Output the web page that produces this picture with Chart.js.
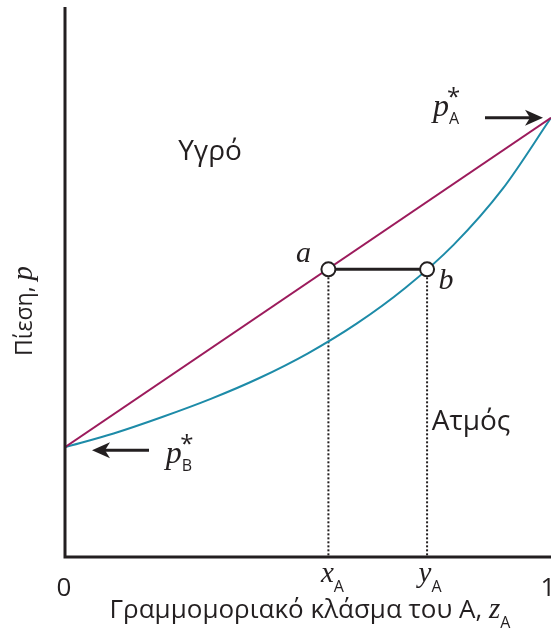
<!DOCTYPE html>
<html lang="el">
<head>
  <meta charset="UTF-8" />
  <title>Διάγραμμα πίεσης - σύστασης</title>
  <script src="https://cdn.jsdelivr.net/npm/chart.js"></script>
  <style>
    body {
      margin: 0;
      background: #ffffff;
    }
    #wrap {
      width: 551px;
      height: 633px;
    }
  </style>
</head>
<body>
  <div id="wrap"><canvas id="phase" width="551" height="633"></canvas></div>

  <script>
    // mole fraction of A and pressures (p_B* = 0.40, p_A* = 1.00)
    const compA = [0, 0.1, 0.2, 0.3, 0.4, 0.5, 0.6, 0.7, 0.8, 0.9, 1.0]
    const vaporP = [0.40, 0.425, 0.455, 0.488, 0.526, 0.571, 0.625, 0.690, 0.769, 0.870, 1.00]
    const liquidX = [0, 1]
    const liquidP = [0.40, 1.00]
    // tie line a-b
    const tieX = [0.542, 0.745]
    const tieP = [0.724, 0.724]
    const pAxisMin = 0.2
    const pAxisMax = 1.2

    const INK = '#231f20'
    const SANS = '"Open Sans", "Noto Sans", sans-serif'
    const SERIF = '"Liberation Serif", "DejaVu Serif", serif'

    const pts = (xs, ys) => xs.map((x, i) => ({ x: x, y: ys[i] }))

    // draws text made of several runs (normal / italic / subscript)
    function richText(ctx, runs, x, y, align) {
      let w = 0
      runs.forEach(r => { if (!r.overlay) { ctx.font = r.font; w += ctx.measureText(r.text).width + (r.gap || 0) } })
      let cx = align === 'center' ? x - w / 2 : (align === 'right' ? x - w : x)
      ctx.textAlign = 'left'
      ctx.textBaseline = 'alphabetic'
      runs.forEach(r => {
        ctx.font = r.font
        ctx.fillText(r.text, cx + (r.dx || 0), y + (r.dy || 0))
        if (!r.overlay) cx += ctx.measureText(r.text).width + (r.gap || 0)
      })
    }

    function arrow(ctx, x1, y, x2) {
      const dir = Math.sign(x2 - x1)
      ctx.strokeStyle = INK
      ctx.fillStyle = INK
      ctx.lineWidth = 3
      ctx.beginPath()
      ctx.moveTo(x1, y)
      ctx.lineTo(x2 - dir * 10, y)
      ctx.stroke()
      ctx.beginPath()
      ctx.moveTo(x2, y)
      ctx.lineTo(x2 - dir * 18, y - 8)
      ctx.lineTo(x2 - dir * 13, y)
      ctx.lineTo(x2 - dir * 18, y + 8)
      ctx.closePath()
      ctx.fill()
    }

    const decorations = {
      id: 'decorations',
      afterDraw(chart) {
        const ctx = chart.ctx
        const xs = chart.scales.x
        const ys = chart.scales.y
        const area = chart.chartArea
        ctx.save()

        // axes
        ctx.strokeStyle = INK
        ctx.lineWidth = 3
        ctx.beginPath()
        ctx.moveTo(area.left, 7)
        ctx.lineTo(area.left, area.bottom)
        ctx.lineTo(551, area.bottom)
        ctx.stroke()

        ctx.fillStyle = INK
        const sub = '500 16px ' + SANS
        const ital = 'italic 29px ' + SERIF

        // tick labels
        ctx.font = '26px ' + SANS
        ctx.textAlign = 'center'
        ctx.textBaseline = 'alphabetic'
        ctx.fillText('0', xs.getPixelForValue(0) - 1, 596)
        ctx.fillText('1', xs.getPixelForValue(1) - 3, 596)
        richText(ctx, [{ text: 'x', font: ital }, { text: 'A', font: sub, dy: 10 }], xs.getPixelForValue(tieX[0]) + 4, 582, 'center')
        richText(ctx, [{ text: 'y', font: ital }, { text: 'A', font: sub, dy: 10 }], xs.getPixelForValue(tieX[1]) + 3, 582, 'center')

        // axis titles
        richText(ctx, [
          { text: 'Γραμμομοριακό κλάσμα του A, ', font: '26px ' + SANS },
          { text: 'z', font: ital },
          { text: 'A', font: sub, dy: 10 }
        ], 310, 618, 'center')

        ctx.save()
        ctx.translate(32, 311)
        ctx.rotate(-Math.PI / 2)
        richText(ctx, [
          { text: 'Πίεση, ', font: '23px ' + SANS },
          { text: 'p', font: ital }
        ], 0, 0, 'center')
        ctx.restore()

        // region names
        ctx.font = '28px ' + SANS
        ctx.textAlign = 'center'
        ctx.fillText('Υγρό', 210, 160)
        ctx.fillText('Ατμός', 471, 430)

        // tie line ends
        const aPx = xs.getPixelForValue(tieX[0])
        const bPx = xs.getPixelForValue(tieX[1])
        const tPy = ys.getPixelForValue(tieP[0])
        ctx.font = 'italic 30px ' + SERIF
        ctx.fillText('a', aPx - 25, tPy - 7)
        ctx.fillText('b', bPx + 19, tPy + 20)

        // pure component vapour pressures
        const pA = ys.getPixelForValue(liquidP[1])
        const pB = ys.getPixelForValue(liquidP[0])
        arrow(ctx, 485, pA, 543)
        arrow(ctx, 149, pB + 3, 92)
        const pFont = 'italic 32px ' + SERIF
        richText(ctx, [
          { text: 'p', font: pFont },
          { text: 'A', font: sub, dy: 8 },
          { text: '*', font: '24px ' + SANS, dx: -12, dy: -11, overlay: true }
        ], 446, pA - 2, 'center')
        richText(ctx, [
          { text: 'p', font: pFont },
          { text: 'B', font: sub, dy: 8 },
          { text: '*', font: '24px ' + SANS, dx: -12, dy: -11, overlay: true }
        ], 179, pB + 16, 'center')

        ctx.restore()
      }
    }

    new Chart(document.getElementById('phase'), {
      type: 'line',
      data: {
        datasets: [
          {
            label: 'tie',
            data: pts(tieX, tieP),
            borderColor: INK,
            borderWidth: 3,
            pointRadius: 7,
            pointBorderWidth: 2,
            pointBackgroundColor: '#ffffff',
            pointBorderColor: INK,
            order: 1
          },
          {
            label: 'liquid',
            data: pts(liquidX, liquidP),
            borderColor: '#9c1b5c',
            borderWidth: 2,
            pointRadius: 0,
            order: 2
          },
          {
            label: 'vapour',
            data: pts(compA, vaporP),
            borderColor: '#1d8ba8',
            borderWidth: 2,
            pointRadius: 0,
            cubicInterpolationMode: 'monotone',
            order: 3
          },
          {
            label: 'xA',
            data: pts([tieX[0], tieX[0]], [tieP[0], pAxisMin]),
            borderColor: INK,
            borderWidth: 2,
            borderDash: [2, 2],
            pointRadius: 0,
            order: 4
          },
          {
            label: 'yA',
            data: pts([tieX[1], tieX[1]], [tieP[1], pAxisMin]),
            borderColor: INK,
            borderWidth: 2,
            borderDash: [2, 2],
            pointRadius: 0,
            order: 4
          }
        ]
      },
      options: {
        responsive: false,
        animation: false,
        layout: { autoPadding: false, padding: { left: 65, right: 0, top: 8, bottom: 76 } },
        plugins: { legend: { display: false }, tooltip: { enabled: false } },
        scales: {
          x: { type: 'linear', min: 0, max: 1, display: false },
          y: { type: 'linear', min: pAxisMin, max: pAxisMax, display: false }
        }
      },
      plugins: [decorations]
    })
  </script>
</body>
</html>
